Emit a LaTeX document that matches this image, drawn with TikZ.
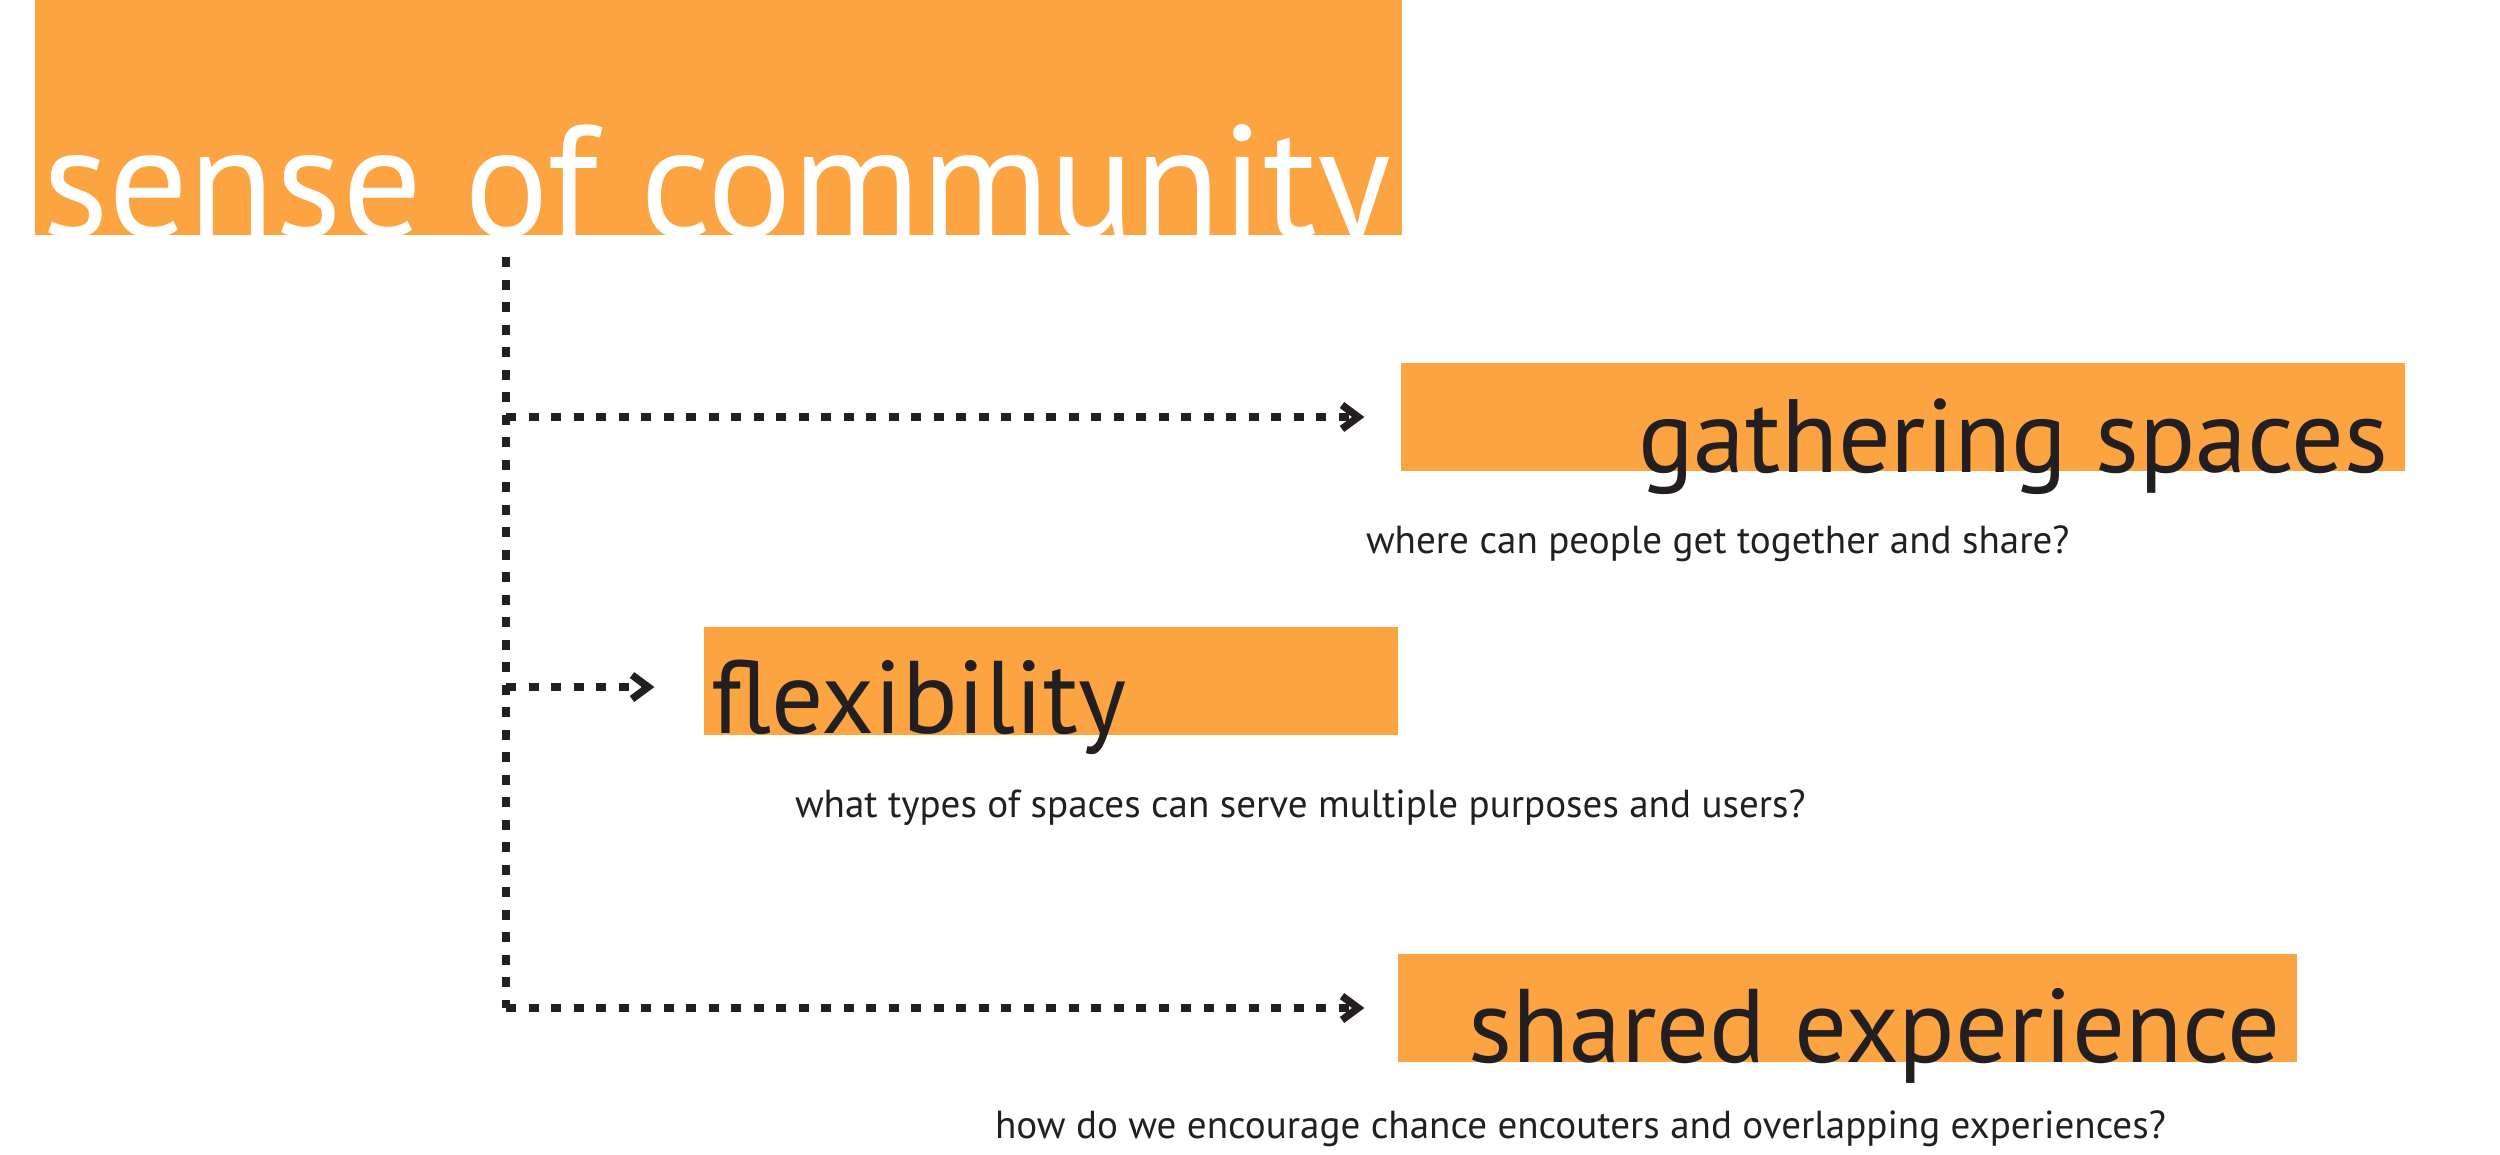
\documentclass[tikz,border=0pt]{standalone}
\usepackage{fontspec}
\setmainfont{PT Sans}
\usetikzlibrary{arrows.meta}
\definecolor{orng}{HTML}{FCA342}
\definecolor{ink}{HTML}{231F20}
\begin{document}
\begin{tikzpicture}[x=0.01cm,y=-0.01cm,
  obox/.style={fill=orng, draw=none, anchor=north west, inner sep=0pt, outer sep=0pt},
  lbl/.style={anchor=base west, inner sep=0pt, outer sep=0pt, text=ink},
  dotline/.style={draw=ink, line width=2.1pt, dash pattern=on 2.85pt off 3.55pt},
  arr/.style={dotline, -{Straight Barb[length=4.6pt,width=6.8pt,sep=1.6pt]}}]
\useasboundingbox (0,0) rectangle (2500,1154);
% boxes
\node[obox, minimum width=13.66cm, minimum height=2.35cm] (tbox) at (35,0) {};
\node[obox, minimum width=10.03cm, minimum height=1.08cm] (gbox) at (1401,363) {};
\node[obox, minimum width=6.94cm, minimum height=1.08cm] (fbox) at (704,627) {};
\node[obox, minimum width=8.98cm, minimum height=1.08cm] (sbox) at (1398,954) {};
% titles
\node[lbl, text=white] (ttext) at (42,236) {\resizebox{13.48cm}{!}{sense of community}};
\node[lbl] (gtext) at (1638,472) {\resizebox{7.50cm}{!}{gathering spaces}};
\node[lbl] (ftext) at (711,733) {\resizebox{4.15cm}{!}{flexibility}};
\node[lbl] (stext) at (1468,1062) {\resizebox{8.12cm}{!}{shared experience}};
% subtitles
\node[lbl] (gsub) at (1366,553) {\resizebox{7.03cm}{!}{where can people get together and share?}};
\node[lbl] (fsub) at (795,817) {\resizebox{10.10cm}{!}{what types of spaces can serve multiple purposes and users?}};
\node[lbl] (ssub) at (995,1138) {\resizebox{11.70cm}{!}{how do we encourage chance encouters and overlapping experiences?}};
% connectors
\coordinate (top) at (506,257);
\coordinate (j1) at (506,417);
\coordinate (j2) at (506,687);
\coordinate (j3) at (506,1008);
\coordinate (e1) at (1370,417);
\coordinate (e2) at (660,687);
\coordinate (e3) at (1370,1008);
\draw[dotline] (top) -- (j3);
\draw[arr] (j1) -- (e1);
\draw[arr] (j2) -- (e2);
\draw[arr] (j3) -- (e3);
\end{tikzpicture}
\end{document}
